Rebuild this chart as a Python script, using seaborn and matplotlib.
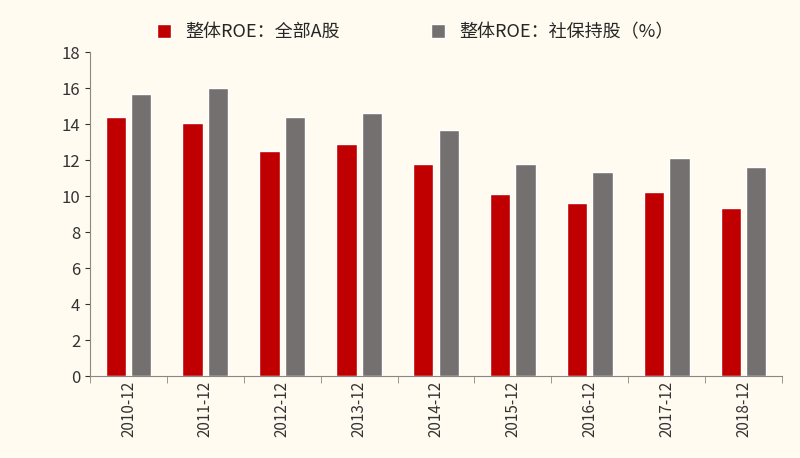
import matplotlib
matplotlib.use("Agg")
import matplotlib.pyplot as plt
import seaborn as sns
import pandas as pd

years = ["2010-12","2011-12","2012-12","2013-12","2014-12","2015-12","2016-12","2017-12","2018-12"]
all_a = [14.4,14.05,12.5,12.88,11.78,10.14,9.6,10.25,9.34]
sbf = [15.7,16.0,14.4,14.6,13.68,11.78,11.32,12.13,11.6]
names = ["整体ROE：全部A股","整体ROE：社保持股（%）"]

sns.set_style("ticks")
plt.rcParams['font.family'] = ['Noto Sans CJK SC','DejaVu Sans']
df = pd.DataFrame({"year": years*2, "v": all_a+sbf, "s": [names[0]]*9+[names[1]]*9})
bg = "#fffbf0"
fig = plt.figure(figsize=(8,4.58), dpi=100, facecolor=bg)
ax = fig.add_axes([0.1125, 0.179, 0.865, 0.707], facecolor=bg)
sns.barplot(data=df, x="year", y="v", hue="s", palette=["#c00000","#747070"],
            width=0.66, gap=0.2, ax=ax, saturation=1)
ax.set_ylim(0,18)
ax.set_yticks(range(0,19,2))
ax.set_xlabel(""); ax.set_ylabel("")
ax.tick_params(axis='x', rotation=90, labelsize=11, colors="#333333")
ax.tick_params(axis='y', labelsize=12, colors="#333333")
ax.set_xticks([i+0.5 for i in range(-1,9)], minor=True)
ax.tick_params(axis='x', which='major', length=0)
ax.tick_params(axis='x', which='minor', length=5, direction='out', color="#888888")
for sp in ["top","right"]:
    ax.spines[sp].set_visible(False)
for sp in ["left","bottom"]:
    ax.spines[sp].set_color("#888888")
ax.legend(loc="upper center", bbox_to_anchor=(0.47,1.14), ncol=2, frameon=False,
          fontsize=13, handlelength=0.8, handleheight=0.8, columnspacing=5)
fig.savefig("out.png", dpi=100, facecolor=bg)
